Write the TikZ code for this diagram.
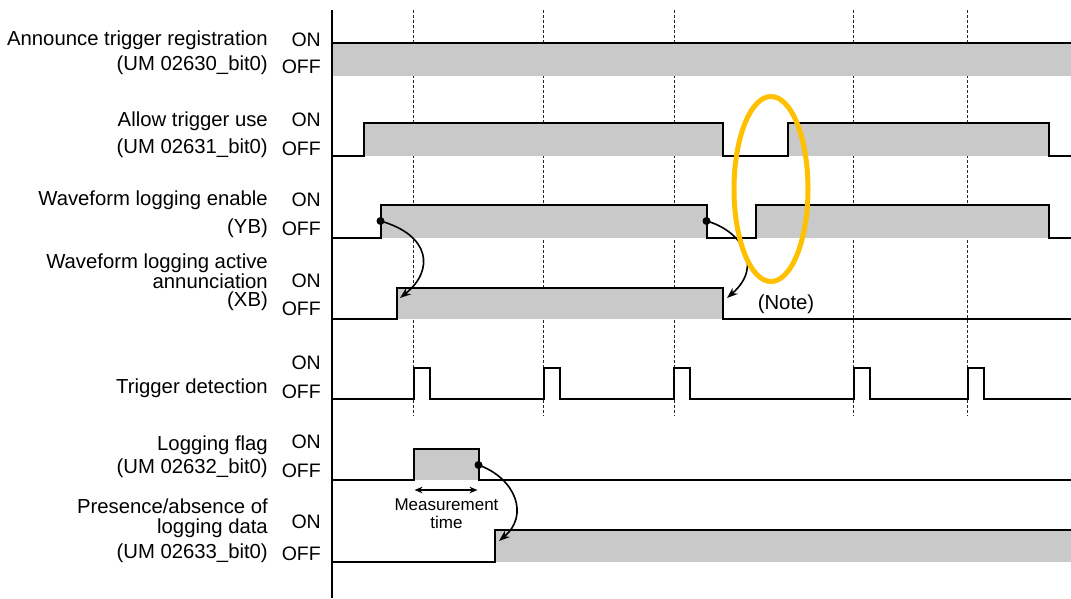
\documentclass[tikz,border=0pt]{standalone}
\usepackage{fontspec}
\setmainfont{Liberation Sans}
\usetikzlibrary{arrows.meta}
\definecolor{barfill}{RGB}{200,201,200}
\definecolor{noteorange}{RGB}{255,192,0}
\begin{document}
\begin{tikzpicture}[x=1pt,y=-1pt,
  sig/.style={line width=2pt, line join=miter},
  bar/.style={fill=barfill},
  guide/.style={line width=0.8pt, dash pattern=on 3pt off 2pt, black!85},
  onoff/.style={anchor=base east, inner sep=0pt, font=\fontsize{19.5}{20}\selectfont},
  lbl/.style={anchor=base east, inner sep=0pt, font=\fontsize{20.3}{21}\selectfont},
  small/.style={anchor=base, inner sep=0pt, font=\fontsize{17}{18}\selectfont},
  conn/.style={line width=1.6pt, -{Stealth[length=11pt,width=8pt]}},
  dim/.style={line width=1.4pt, {Stealth[length=8pt,width=6.5pt]}-{Stealth[length=8pt,width=6.5pt]}},
  dotc/.style={circle, fill=black, inner sep=0pt, minimum size=8pt}
]
\useasboundingbox (0,0) rectangle (1071,598);

% dashed time guides
\foreach \x in {413.5,543.5,674,853.5,967.5} \draw[guide] (\x,10) -- (\x,416);

% grey fills
\fill[bar] (332,43) rectangle (1071,75.5);
\fill[bar] (364,122.5) rectangle (723,155.5);
\fill[bar] (787.5,122.5) rectangle (1049,155.5);
\fill[bar] (380.5,204.5) rectangle (706.5,238);
\fill[bar] (756,204.5) rectangle (1049,238);
\fill[bar] (396.5,287.5) rectangle (723,318.5);
\fill[bar] (413.5,448.5) rectangle (478.5,480);
\fill[bar] (495,530) rectangle (1071,562);

% signals
\draw[sig] (332,43) -- (1071,43);
\draw[sig] (332,155.5) -- (364,155.5) -- (364,122.5) -- (723,122.5) -- (723,155.5) -- (787.5,155.5) -- (787.5,122.5) -- (1049,122.5) -- (1049,155.5) -- (1071,155.5);
\draw[sig] (332,238) -- (380.5,238) -- (380.5,204.5) -- (706.5,204.5) -- (706.5,238) -- (756,238) -- (756,204.5) -- (1049,204.5) -- (1049,238) -- (1071,238);
\draw[sig] (332,318.5) -- (396.5,318.5) -- (396.5,287.5) -- (723,287.5) -- (723,318.5) -- (1071,318.5);
\draw[sig] (332,399) -- (413.5,399) -- (413.5,368) -- (429.5,368) -- (429.5,399)
  -- (543.5,399) -- (543.5,368) -- (560,368) -- (560,399)
  -- (674,399) -- (674,368) -- (690,368) -- (690,399)
  -- (853.5,399) -- (853.5,368) -- (869.5,368) -- (869.5,399)
  -- (967.5,399) -- (967.5,368) -- (983.5,368) -- (983.5,399) -- (1071,399);
\draw[sig] (332,480) -- (413.5,480) -- (413.5,448.5) -- (478.5,448.5) -- (478.5,480) -- (1071,480);
\draw[sig] (332,562) -- (495,562) -- (495,530) -- (1071,530);

% time axis
\draw[line width=2pt] (332,10) -- (332,598);

% causal connectors
\node[dotc] (d1) at (380.5,221) {};
\node[dotc] (d2) at (706.5,221) {};
\node[dotc] (d3) at (478.5,465) {};
\coordinate (t1) at (400,298);
\coordinate (t2) at (727,298);
\coordinate (t3) at (499,541);
\draw[conn] (d1.center) .. controls (430,235) and (435,270) .. (t1);
\draw[conn] (d2.center) .. controls (740,230) and (765,265) .. (t2);
\draw[conn] (d3.center) .. controls (515,478) and (530,515) .. (t3);

% measurement time
\coordinate (ms) at (414.5,490);
\coordinate (me) at (477.5,490);
\draw[dim] (ms) -- (me);
\node[small] (mt1) at (446.5,510) {Measurement};
\node[small] (mt2) at (446.5,528) {time};

% note
\node[lbl, anchor=base] (note) at (786,309) {(Note)};
\draw[noteorange, line width=5pt] (771,189) ellipse [x radius=37, y radius=92.5];

% labels
\node[lbl] (l1a) at (268,45) {Announce trigger registration};
\node[lbl] (l1b) at (268,70) {(UM 02630\_bit0)};
\node[onoff] (on1) at (321,46) {ON};
\node[onoff] (off1) at (321,73) {OFF};

\node[lbl] (l2a) at (268,126) {Allow trigger use};
\node[lbl] (l2b) at (268,153) {(UM 02631\_bit0)};
\node[onoff] (on2) at (321,126) {ON};
\node[onoff] (off2) at (321,155) {OFF};

\node[lbl] (l3a) at (268,205) {Waveform logging enable};
\node[lbl] (l3b) at (268,233) {(YB)};
\node[onoff] (on3) at (321,206) {ON};
\node[onoff] (off3) at (321,235) {OFF};

\node[lbl] (l4a) at (268,268.5) {Waveform logging active};
\node[lbl] (l4b) at (268,288) {annunciation};
\node[lbl] (l4c) at (268,306.5) {(XB)};
\node[onoff] (on4) at (321,287.5) {ON};
\node[onoff] (off4) at (321,315.5) {OFF};

\node[lbl] (l5a) at (268,393) {Trigger detection};
\node[onoff] (on5) at (321,369) {ON};
\node[onoff] (off5) at (321,398) {OFF};

\node[lbl] (l6a) at (268,450) {Logging flag};
\node[lbl] (l6b) at (268,473) {(UM 02632\_bit0)};
\node[onoff] (on6) at (321,448) {ON};
\node[onoff] (off6) at (321,477) {OFF};

\node[lbl] (l7a) at (268,513.5) {Presence/absence of};
\node[lbl] (l7b) at (268,533.5) {logging data};
\node[lbl] (l7c) at (268,558) {(UM 02633\_bit0)};
\node[onoff] (on7) at (321,528) {ON};
\node[onoff] (off7) at (321,560) {OFF};
\end{tikzpicture}
\end{document}
